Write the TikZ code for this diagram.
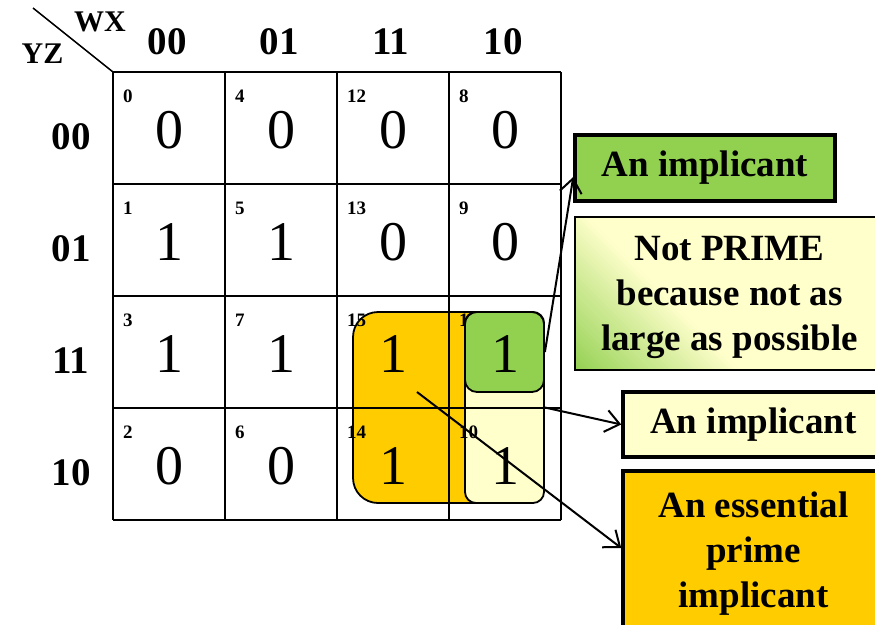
\documentclass[tikz,border=0pt]{standalone}
\usepackage{fontspec}
\setmainfont{Liberation Serif}
\usetikzlibrary{arrows.meta,calc}
\definecolor{kgreen}{HTML}{92D050}
\definecolor{kyellow}{HTML}{FFFFCC}
\definecolor{korange}{HTML}{FFCC00}
\begin{document}
\begin{tikzpicture}[x=1pt,y=-1pt,
  gridline/.style={line width=2pt},
  cellnum/.style={font=\bfseries\fontsize{19}{19}\selectfont, inner sep=0pt, anchor=base west},
  cellval/.style={font=\fontsize{56}{56}\selectfont, inner sep=0pt},
  axislabel/.style={font=\bfseries\fontsize{39}{39}\selectfont, inner sep=0pt},
  varlabel/.style={font=\bfseries\fontsize{30}{30}\selectfont, inner sep=0pt},
  group/.style={draw, line width=1.8pt, inner sep=0pt},
  callout/.style={draw, line width=3.5pt, inner sep=0pt, align=center, font=\bfseries\fontsize{37}{45}\selectfont},
  pointer/.style={line width=2pt, -{Straight Barb[length=14pt,width=22pt,line width=2pt]}},
  cornerglow/.style={path picture={
    \foreach \s in {170,165,...,5} {
      \pgfmathtruncatemacro\p{100*(1-\s/170)}
      \fill[kgreen!\p!kyellow] (path picture bounding box.south west) -- ++(\s pt,0pt) -- ++(-\s pt,\s pt) -- cycle;
    }}}
]
\useasboundingbox (0,0) rectangle (875,624);
% groups (behind the grid)
\node[group, fill=korange, rounded corners=25pt, minimum width=191pt, minimum height=191pt] (ogrp) at (448.5,407.5) {};
\node[group, fill=kyellow, rounded corners=11pt, minimum width=79pt, minimum height=191pt] (ygrp) at (504.5,407.5) {};
% grid
\foreach \i in {0,...,4} {
  \draw[gridline] (113+112*\i,72) -- (113+112*\i,520);
  \draw[gridline] (113,72+112*\i) -- (561,72+112*\i);
}
\def\kcells{0/0/0/0, 1/0/4/0, 2/0/12/0, 3/0/8/0, 0/1/1/1, 1/1/5/1, 2/1/13/0, 3/1/9/0, 0/2/3/1, 1/2/7/1, 2/2/15/1, 3/2/11/1, 0/3/2/0, 1/3/6/0, 2/3/14/1, 3/3/10/1}
\foreach \c/\r/\n/\v in \kcells {
  \node[cellnum] (n\n) at (123+112*\c, 102+112*\r) {\n};
}
\node[group, fill=kgreen, rounded corners=12pt, minimum width=79pt, minimum height=80pt] (ggrp) at (504.5,352) {};
\foreach \c/\r/\n/\v in \kcells {
  \node[cellval] (v\n) at (169+112*\c, 130+112*\r) {\v};
}
% headers
\coordinate (dtop) at (33,8);
\coordinate (dcorner) at (113,72);
\draw[line width=1.5pt] (dtop) -- (dcorner);
\node[varlabel] (wx) at (100,22) {WX};
\node[varlabel] (yz) at (42.5,54) {YZ};
\foreach \c/\t in {0/00,1/01,2/11,3/10} {
  \node[axislabel] (col\c) at (167+112*\c,41.5) {\t};
  \node[axislabel] (row\c) at (71,137+112*\c) {\t};
}
% callouts
\node[callout, fill=kgreen, minimum width=260pt, minimum height=66pt] (gbox) at (705,168) {An implicant};
\node[callout, line width=2.5pt, fill=kyellow, cornerglow, minimum width=309pt, minimum height=153pt] (pbox) at (729.5,293.5) {\rule{0pt}{33pt}Not PRIME\\because not as\\large as possible};
\node[callout, fill=kyellow, minimum width=261pt, minimum height=65pt] (lbox) at (753.5,424.5) {An implicant};
\node[callout, fill=korange, minimum width=261pt, minimum height=165pt] (obox) at (753.5,553.5) {An essential\\prime\\implicant};
% pointers
\coordinate (ostart) at (417,392);
\draw[pointer] (ggrp.east) -- ($(gbox.west)+(0,9)$);
\draw[pointer] (ygrp.east) -- (lbox.west);
\draw[pointer] (ostart) -- ($(obox.west)+(0,-5.5)$);
\end{tikzpicture}
\end{document}
